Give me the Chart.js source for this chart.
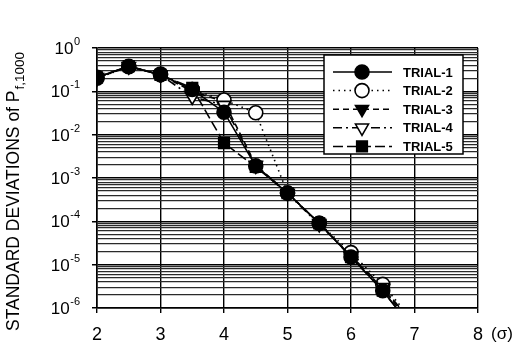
<!DOCTYPE html>
<html>
<head>
<meta charset="utf-8">
<script src="https://cdn.jsdelivr.net/npm/chart.js@4/dist/chart.umd.min.js"></script>
<style>
  html, body { margin: 0; padding: 0; background: #fff; }
  #wrap { width: 530px; height: 352px; }
</style>
</head>
<body>
<div id="wrap"><canvas id="chart" width="530" height="352"></canvas></div>
<script>
// sigma levels (x) and the std. deviation of Pf,1000 for each trial
const sigma = [2, 2.5, 3, 3.5, 4, 4.5, 5, 5.5, 6, 6.5, 7];
const trial1 = [0.21, 0.38, 0.24, 0.11, 0.033, 0.0019, 4.5e-4, 9e-5, 1.5e-5, 2.5e-6, 3e-7];
const trial2 = [0.20, 0.37, 0.25, 0.11, 0.063, 0.032, 4.5e-4, 9e-5, 1.9e-5, 3.5e-6, 4.5e-7];
const trial3 = [0.21, 0.37, 0.24, 0.10, 0.058, 0.0020, 4.5e-4, 9e-5, 1.6e-5, 2.8e-6, 3.5e-7];
const trial4 = [0.20, 0.38, 0.24, 0.074, 0.048, 0.0019, 4.4e-4, 8.5e-5, 1.6e-5, 3e-6, 4e-7];
const trial5 = [0.21, 0.38, 0.24, 0.12, 0.0064, 0.0018, 4.5e-4, 9e-5, 1.5e-5, 2.5e-6, 3e-7];
const trialNames = ['TRIAL-1', 'TRIAL-2', 'TRIAL-3', 'TRIAL-4', 'TRIAL-5'];
const xTicks = [2, 3, 4, 5, 6, 7, 8];
const yExponents = [-6, -5, -4, -3, -2, -1, 0];

const FONT = '"Liberation Sans", Arial, sans-serif';

function pts(values) {
  return values.map((v, i) => ({ x: sigma[i], y: v }));
}

const styles = [
  { style: 'circle', rot: 0, fill: '#000', dash: [], r: 7 },
  { style: 'circle', rot: 0, fill: '#fff', dash: [1.5, 4], r: 7 },
  { style: 'triangle', rot: 180, fill: '#000', dash: [6, 4], r: 7.5 },
  { style: 'triangle', rot: 180, fill: '#fff', dash: [9, 4, 2, 4], r: 7.5 },
  { style: 'rect', rot: 0, fill: '#000', dash: [10, 4], r: 7.5 }
];
const series = [trial1, trial2, trial3, trial4, trial5];

const datasets = series.map((vals, i) => ({
  label: trialNames[i],
  data: pts(vals),
  borderColor: '#000',
  borderWidth: 1.6,
  borderDash: styles[i].dash,
  backgroundColor: styles[i].fill,
  pointStyle: styles[i].style,
  pointRotation: styles[i].rot,
  pointRadius: styles[i].r,
  pointBorderWidth: 1.6,
  pointBorderColor: '#000',
  pointBackgroundColor: styles[i].fill,
  tension: 0,
  order: [1, 3, 4, 2, 5][i]
}));

// legend box drawn inside the plot area, like the original figure
const insideLegend = {
  id: 'insideLegend',
  afterDraw(chart) {
    const ctx = chart.ctx;
    const box = { l: 324, t: 55, r: 463, b: 154 };
    ctx.save();
    ctx.fillStyle = '#fff';
    ctx.fillRect(box.l, box.t, box.r - box.l, box.b - box.t);
    ctx.strokeStyle = '#000';
    ctx.lineWidth = 1.5;
    ctx.strokeRect(box.l, box.t, box.r - box.l, box.b - box.t);
    chart.data.datasets.forEach((ds, i) => {
      const y = 72 + i * 18.6;
      ctx.setLineDash(ds.borderDash);
      ctx.lineWidth = 1.5;
      ctx.beginPath();
      ctx.moveTo(333, y);
      ctx.lineTo(392, y);
      ctx.stroke();
      ctx.setLineDash([]);
      ctx.fillStyle = ds.pointBackgroundColor;
      ctx.lineWidth = 1.6;
      Chart.helpers.drawPoint(ctx, {
        pointStyle: ds.pointStyle, rotation: ds.pointRotation,
        radius: ds.pointRadius, borderWidth: 1.6
      }, 362, y);
      ctx.fillStyle = '#000';
      ctx.font = 'bold 13px ' + FONT;
      ctx.textBaseline = 'middle';
      ctx.textAlign = 'left';
      ctx.fillText(ds.label, 403, y + 1);
    });
    ctx.restore();
  }
};

// 10^n labels with real superscripts, axis title with subscript, and (σ)
const titles = {
  id: 'titles',
  afterDraw(chart) {
    const ctx = chart.ctx;
    const ys = chart.scales.y;
    ctx.save();
    ctx.fillStyle = '#000';
    ctx.textBaseline = 'alphabetic';
    yExponents.forEach(e => {
      const py = ys.getPixelForValue(Math.pow(10, e));
      const exp = String(e);
      ctx.font = '11px ' + FONT;
      const ew = ctx.measureText(exp).width;
      const right = 80;
      ctx.textAlign = 'left';
      ctx.fillText(exp, right - ew, py - 3);
      ctx.font = '17px ' + FONT;
      const bw = ctx.measureText('10').width;
      ctx.fillText('10', right - ew - bw - 0.5, py + 6);
    });
    ctx.restore();

    ctx.save();
    ctx.fillStyle = '#000';
    ctx.translate(19, 331);
    ctx.rotate(-Math.PI / 2);
    ctx.textBaseline = 'alphabetic';
    ctx.textAlign = 'left';
    ctx.font = '17.5px ' + FONT;
    const main = 'STANDARD DEVIATIONS of P';
    ctx.fillText(main, 0, 0);
    const w = ctx.measureText(main).width;
    ctx.font = '13.5px ' + FONT;
    ctx.fillText('f,1000', w + 1, 5);
    ctx.restore();

    ctx.save();
    ctx.fillStyle = '#000';
    ctx.font = '17px ' + FONT;
    ctx.textAlign = 'left';
    ctx.textBaseline = 'middle';
    ctx.fillText('(\u03c3)', 491, 334);
    ctx.restore();
  }
};

new Chart(document.getElementById('chart'), {
  type: 'line',
  data: { datasets },
  options: {
    responsive: false,
    animation: false,
    layout: { padding: { top: 48, right: 52, left: 0, bottom: 0 } },
    plugins: { legend: { display: false }, tooltip: { enabled: false } },
    scales: {
      x: {
        type: 'linear',
        min: 2,
        max: 8,
        afterBuildTicks(scale) { scale.ticks = xTicks.map(v => ({ value: v })); },
        afterFit(scale) { scale.height = 44; },
        border: { color: '#000', width: 1.6 },
        grid: { color: '#000', lineWidth: 1.4, tickLength: 5, tickColor: '#000' },
        ticks: {
          color: '#000',
          font: { family: FONT, size: 18 },
          padding: 11,
          maxRotation: 0,
          callback: v => String(v)
        }
      },
      y: {
        type: 'logarithmic',
        min: 1e-6,
        max: 1,
        afterBuildTicks(scale) {
          const t = [];
          yExponents.forEach(e => {
            for (let m = 1; m <= 9; m++) {
              const v = m * Math.pow(10, e);
              if (v <= 1.0000001) t.push({ value: v, major: m === 1 });
            }
          });
          scale.ticks = t;
        },
        afterFit(scale) { scale.width = 97; },
        border: { color: '#000', width: 1.6 },
        grid: {
          color: ctx => (ctx.tick && ctx.tick.major) ? '#000' : '#2a2a2a',
          lineWidth: ctx => (ctx.tick && ctx.tick.major) ? 1.5 : 1.2,
          tickLength: 5,
          tickColor: ctx => (ctx.tick && ctx.tick.major) ? '#000' : 'rgba(0,0,0,0)'
        },
        ticks: {
          autoSkip: false,
          color: 'rgba(0,0,0,0)',
          font: { family: FONT, size: 16 },
          callback: () => ''
        }
      }
    }
  },
  plugins: [insideLegend, titles]
});
</script>
</body>
</html>
